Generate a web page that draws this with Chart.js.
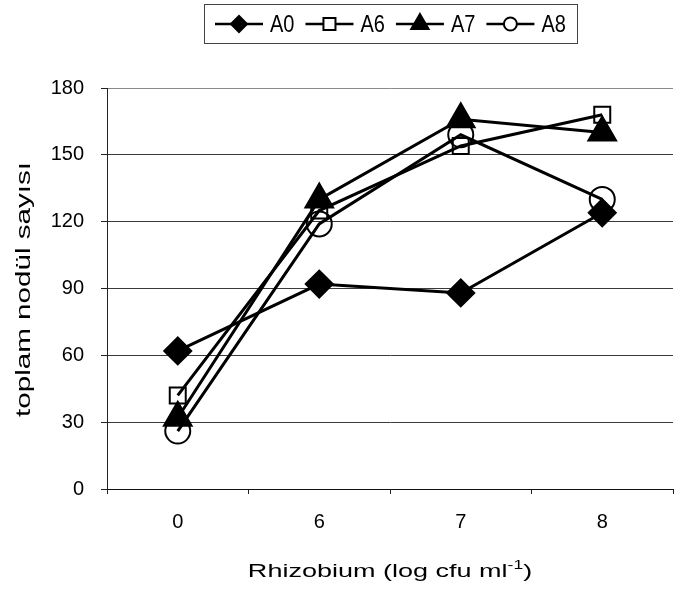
<!DOCTYPE html>
<html>
<head>
<meta charset="utf-8">
<script src="https://cdn.jsdelivr.net/npm/chart.js@4/dist/chart.umd.min.js"></script>
<style>
  html, body { margin: 0; padding: 0; background: #fff; overflow: hidden; }
  #wrap { width: 684px; height: 596px; overflow: hidden; }
</style>
</head>
<body>
<div id="wrap"><canvas id="nodulChart" width="691" height="596"></canvas></div>
<script>
// Rhizobium dose (log cfu/ml) on the x axis
const doses = ["0", "6", "7", "8"];
const seriesNames = ["A0", "A6", "A7", "A8"];
// total nodule counts per treatment
const a0 = [62, 92, 88, 124];
const a6 = [42, 125, 154, 168];
const a7 = [32, 130, 166, 160];
const a8 = [26, 119, 159, 130];
const yTicks = [0, 30, 60, 90, 120, 150, 180];

const FONT = "'Liberation Sans', Arial, sans-serif";

// marker look per series: [pointStyle, radius, filled, legend radius]
const markers = [
  ["rectRot", 13.5, true, 8],
  ["rect", 11.3, false, 8.5],
  ["triangle", 16, true, 10],
  ["circle", 12.5, false, 6.5],
];

function makeDataset(name, values, i) {
  const [style, radius, filled] = markers[i];
  return {
    label: name,
    data: values,
    borderColor: "#000",
    borderWidth: 3,
    tension: 0,
    pointStyle: style,
    pointRadius: radius,
    pointBorderWidth: 2,
    pointBorderColor: "#000",
    pointBackgroundColor: filled ? "#000" : "rgba(0,0,0,0)",
  };
}

// boxed legend with line + marker samples, and stretched axis titles
const decorations = {
  id: "decorations",
  afterDraw(chart) {
    const ctx = chart.ctx;
    const area = chart.chartArea;
    const midX = (area.left + area.right) / 2;

    // legend
    ctx.save();
    ctx.font = "20px " + FONT;
    const lineLen = 48, gap = 7, itemGap = 11, pad = 11;
    const widths = seriesNames.map((n) => ctx.measureText(n).width);
    let total = widths.reduce((s, w) => s + lineLen + gap + w, 0) + itemGap * (seriesNames.length - 1);
    const boxL = Math.round(midX - total / 2 - pad);
    const boxW = Math.round(total + pad * 2);
    ctx.strokeStyle = "#444";
    ctx.lineWidth = 1;
    ctx.strokeRect(boxL + 0.5, 4.5, boxW, 39);
    let x = boxL + pad;
    const cy = 24;
    seriesNames.forEach((name, i) => {
      const [style, , filled, r] = markers[i];
      ctx.strokeStyle = "#000";
      ctx.lineWidth = 2.5;
      ctx.beginPath();
      ctx.moveTo(x, cy);
      ctx.lineTo(x + lineLen, cy);
      ctx.stroke();
      ctx.fillStyle = filled ? "#000" : "#fff";
      ctx.lineWidth = 2;
      Chart.helpers.drawPoint(ctx, { pointStyle: style, radius: r, rotation: 0, borderWidth: 2 }, x + lineLen / 2, cy);
      ctx.save();
      ctx.translate(x + lineLen + gap, 32);
      ctx.scale(1, 1.2);
      ctx.fillStyle = "#000";
      ctx.textBaseline = "alphabetic";
      ctx.fillText(name, 0, 0);
      ctx.restore();
      x += lineLen + gap + widths[i] + itemGap;
    });
    ctx.restore();

    // y axis title
    ctx.save();
    ctx.translate(24, (area.top + area.bottom) / 2 + 1);
    ctx.rotate(-Math.PI / 2);
    ctx.scale(1.48, 1);
    ctx.font = "20px " + FONT;
    ctx.fillStyle = "#000";
    ctx.textAlign = "center";
    ctx.textBaseline = "middle";
    ctx.fillText("toplam nodül sayısı", 0, 0);
    ctx.restore();

    // x axis title with superscript
    ctx.save();
    ctx.translate(midX, area.bottom + 88);
    ctx.scale(1.46, 1);
    ctx.fillStyle = "#000";
    ctx.textBaseline = "alphabetic";
    const main = "Rhizobium (log cfu ml", sup = "-1", close = ")";
    ctx.font = "18.5px " + FONT;
    const wMain = ctx.measureText(main).width;
    const wClose = ctx.measureText(close).width;
    ctx.font = "12px " + FONT;
    const wSup = ctx.measureText(sup).width;
    let tx = -(wMain + wSup + wClose) / 2;
    ctx.font = "18.5px " + FONT;
    ctx.fillText(main, tx, 0);
    tx += wMain;
    ctx.font = "12px " + FONT;
    ctx.fillText(sup, tx, -8);
    tx += wSup;
    ctx.font = "18.5px " + FONT;
    ctx.fillText(close, tx, 0);
    ctx.restore();
  },
};

new Chart(document.getElementById("nodulChart"), {
  type: "line",
  data: {
    labels: doses,
    datasets: [a0, a6, a7, a8].map((v, i) => makeDataset(seriesNames[i], v, i)),
  },
  options: {
    responsive: false,
    animation: false,
    layout: { padding: { top: 88, left: 0, right: 0, bottom: 0 } },
    plugins: { legend: { display: false }, tooltip: { enabled: false } },
    scales: {
      x: {
        type: "category",
        offset: true,
        grid: { offset: true, drawOnChartArea: false, drawTicks: true, tickLength: 5, tickColor: "#222" },
        border: { color: "#111", width: 1 },
        ticks: { color: "#000", font: { family: FONT, size: 20 }, padding: 16, maxRotation: 0, autoSkip: false },
        afterFit(scale) { scale.height = 107; },
      },
      y: {
        min: yTicks[0],
        max: yTicks[yTicks.length - 1],
        afterBuildTicks(scale) { scale.ticks = yTicks.map((v) => ({ value: v })); },
        grid: {
          color: (c) => (c.tick && c.tick.value === 180 ? "#8a8a8a" : "#3a3a3a"),
          lineWidth: 1,
          drawTicks: true,
          tickLength: 6,
          tickColor: "#222",
        },
        border: { color: "#222", width: 1 },
        ticks: { color: "#000", font: { family: FONT, size: 20 }, padding: 17 },
        afterFit(scale) { scale.width = 107; },
      },
    },
  },
  plugins: [decorations],
});
</script>
</body>
</html>
